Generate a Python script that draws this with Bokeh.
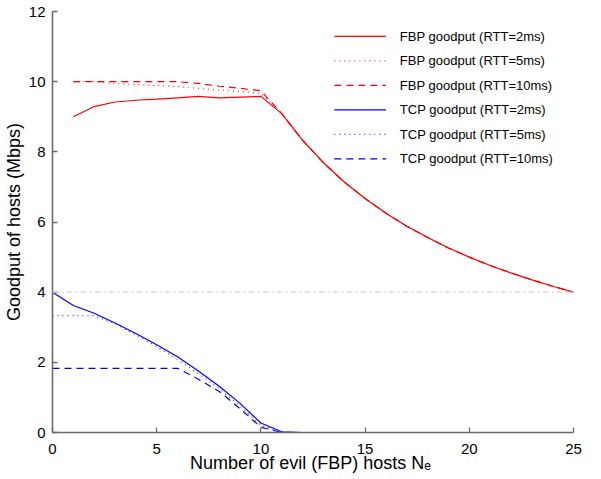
from bokeh.plotting import figure
from bokeh.models import Range1d, FixedTicker, Span
from bokeh.core.properties import value
from bokeh.embed import file_html
from bokeh.resources import INLINE

# ---- data ----
x_fbp = [1, 2, 3, 4, 5, 6, 7, 8, 9, 10, 11, 12, 13, 14, 15, 16, 17, 18, 19, 20, 21, 22, 23, 24, 25]
fbp_2ms = [9.00, 9.29, 9.42, 9.47, 9.50, 9.54, 9.58, 9.54, 9.56, 9.58,
           9.09, 8.33, 7.69, 7.14, 6.67, 6.25, 5.88, 5.56, 5.26, 5.00, 4.76, 4.55, 4.35, 4.17, 4.00]
fbp_5ms = [10.00, 10.00, 9.95, 9.92, 9.89, 9.86, 9.81, 9.76, 9.72, 9.67,
           9.09, 8.33, 7.69, 7.14, 6.67, 6.25, 5.88, 5.56, 5.26, 5.00, 4.76, 4.55, 4.35, 4.17, 4.00]
fbp_10ms = [10.00, 10.00, 10.00, 10.00, 10.00, 10.00, 9.95, 9.87, 9.81, 9.74,
            9.09, 8.33, 7.69, 7.14, 6.67, 6.25, 5.88, 5.56, 5.26, 5.00, 4.76, 4.55, 4.35, 4.17, 4.00]

x_tcp = [0, 1, 2, 3, 4, 5, 6, 7, 8, 9, 10, 11, 12, 13, 14, 15, 16, 17, 18, 19, 20, 21, 22, 23, 24]
tcp_2ms = [4.00, 3.62, 3.40, 3.12, 2.82, 2.50, 2.16, 1.75, 1.32, 0.83, 0.27, 0.02,
           0, 0, 0, 0, 0, 0, 0, 0, 0, 0, 0, 0, 0]
tcp_5ms = [3.33, 3.33, 3.33, 3.10, 2.78, 2.45, 2.08, 1.68, 1.25, 0.75, 0.20, 0.02,
           0, 0, 0, 0, 0, 0, 0, 0, 0, 0, 0, 0, 0]
tcp_10ms = [1.83, 1.83, 1.83, 1.83, 1.83, 1.83, 1.83, 1.52, 1.17, 0.68, 0.15, 0.00,
            0, 0, 0, 0, 0, 0, 0, 0, 0, 0, 0, 0, 0]

ref_level = 4.0
x_ticks = [0, 5, 10, 15, 20, 25]
y_ticks = [0, 2, 4, 6, 8, 10, 12]

labels = ["FBP goodput (RTT=2ms)", "FBP goodput (RTT=5ms)", "FBP goodput (RTT=10ms)",
          "TCP goodput (RTT=2ms)", "TCP goodput (RTT=5ms)", "TCP goodput (RTT=10ms)"]
x_title = "Number of evil (FBP) hosts  N\u2091"
y_title = "Goodput of hosts (Mbps)"

FONT = "Liberation Sans"
AX = "#6b6b6b"

X0, X1 = 0, 25
Y0, Y1 = 0, 12
FRAME_W, FRAME_H = 525, 413

p = figure(width=585, height=475, x_range=Range1d(X0, X1), y_range=Range1d(Y0, Y1),
           output_backend="svg", toolbar_location=None,
           min_border_left=48, min_border_right=12, min_border_top=11, min_border_bottom=30)
p.margin = (0, 0, -12, 0)
p.grid.visible = False
p.outline_line_color = None

for ax in (p.xaxis[0], p.yaxis[0]):
    ax.axis_line_color = AX
    ax.axis_line_width = 1.6
    ax.major_tick_line_color = AX
    ax.major_tick_line_width = 1.3
    ax.major_tick_in = 5
    ax.major_tick_out = 0
    ax.minor_tick_line_color = None
    ax.major_label_text_font = FONT
    ax.major_label_text_font_size = "15px"
    ax.major_label_text_color = "black"
    ax.axis_label_text_font = FONT
    ax.axis_label_text_font_size = "18px"
    ax.axis_label_text_font_style = "normal"
    ax.axis_label_text_color = "black"
p.xaxis[0].ticker = FixedTicker(ticks=x_ticks)
p.yaxis[0].ticker = FixedTicker(ticks=y_ticks)
p.xaxis[0].major_label_standoff = 11
p.yaxis[0].major_label_standoff = 7
p.xaxis[0].axis_label = x_title
p.yaxis[0].axis_label = y_title
p.xaxis[0].axis_label_standoff = -4
p.yaxis[0].axis_label_standoff = 2

p.add_layout(Span(location=ref_level, dimension="width", line_color="#d6d6d6",
                  line_width=1.2, line_dash="6 3 2 3"))

series = [(x_fbp, fbp_2ms, "#ff0000", "solid"),
          (x_fbp, fbp_5ms, "#ff3030", "1 4"),
          (x_fbp, fbp_10ms, "#ff0000", "7 5"),
          (x_tcp, tcp_2ms, "#0000ff", "solid"),
          (x_tcp, tcp_5ms, "#3030ff", "1 4"),
          (x_tcp, tcp_10ms, "#0000ff", "7 5")]
for xs, ys, col, dash in series:
    p.line(xs, ys, line_color=col, line_width=1.2, line_dash=dash)

# ---- hand-drawn legend (screen offsets from frame top-left, converted to data) ----
px_x = (X1 - X0) / FRAME_W
px_y = (Y1 - Y0) / FRAME_H
LEG_LEFT, LEG_GLYPH_W, LEG_STANDOFF = 284, 52, 14
LEG_TOP, LEG_STEP = 24.5, 24
lx0 = X0 + LEG_LEFT * px_x
lx1 = X0 + (LEG_LEFT + LEG_GLYPH_W) * px_x
ltx = X0 + (LEG_LEFT + LEG_GLYPH_W + LEG_STANDOFF) * px_x
row_y = [Y1 - (LEG_TOP + i * LEG_STEP) * px_y for i in range(len(labels))]
for (xs, ys, col, dash), yy in zip(series, row_y):
    p.segment(x0=[lx0], y0=[yy], x1=[lx1], y1=[yy], line_color=col, line_width=1.2,
              line_dash=dash)
p.text(x=[ltx] * len(labels), y=row_y, text=labels, text_font=value(FONT),
       text_font_size=value("13px"), text_baseline="middle", text_align="left",
       text_color="black")

open("out.html", "w").write(file_html(p, INLINE))
